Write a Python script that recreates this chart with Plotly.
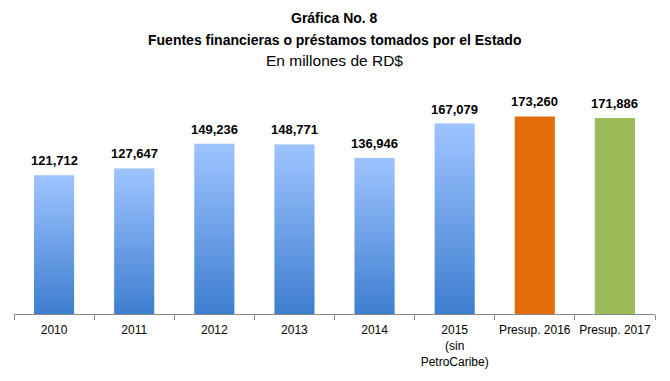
import plotly.graph_objects as go

categories = ["2010", "2011", "2012", "2013", "2014", "2015<br>(sin<br>PetroCaribe)", "Presup. 2016", "Presup. 2017"]
values = [121712, 127647, 149236, 148771, 136946, 167079, 173260, 171886]
labels = ["121,712", "127,647", "149,236", "148,771", "136,946", "167,079", "173,260", "171,886"]
kinds = ["gradient"] * 6 + ["orange", "green"]
title_lines = ["<b>Gráfica No. 8</b>",
               "<b>Fuentes financieras o préstamos tomados por el Estado</b>",
               "En millones de RD$"]
title_sizes = [14, 14, 15.5]

BAR_W = 0.5
FONT = "Liberation Sans"
OFF = 8                      # page body margin of the html page
W, H = 670 - OFF, 381 - OFF
plot_left, plot_right = 14 - OFF, 655 - OFF
plot_top, plot_bot = 86 - OFF, 314 - OFF
title_px = [18 - OFF, 40 - OFF, 60 - OFF]

fig = go.Figure()

fig.add_trace(go.Bar(x=categories, y=values, marker=dict(color="rgba(0,0,0,0)"),
                     hoverinfo="skip", showlegend=False, width=BAR_W))

solid = {"orange": "#E36C0A", "green": "#9BBB59"}
for i, (v, k) in enumerate(zip(values, kinds)):
    xs = [i - BAR_W / 2, i + BAR_W / 2, i + BAR_W / 2, i - BAR_W / 2, i - BAR_W / 2]
    ys = [0, 0, v, v, 0]
    if k == "gradient":
        fig.add_trace(go.Scatter(
            x=xs, y=ys, xaxis="x2", mode="lines", line=dict(width=0),
            fill="toself",
            fillgradient=dict(type="vertical",
                              colorscale=[[0, "#3E7ED0"], [1, "#9EC4FF"]]),
            hoverinfo="skip", showlegend=False))
    else:
        fig.add_trace(go.Scatter(
            x=xs, y=ys, xaxis="x2", mode="lines", line=dict(width=0),
            fill="toself", fillcolor=solid[k],
            hoverinfo="skip", showlegend=False))

for i, (v, t) in enumerate(zip(values, labels)):
    fig.add_annotation(x=i, y=v, xref="x2", yref="y", text="<b>%s</b>" % t,
                       showarrow=False, yanchor="bottom", yshift=5,
                       font=dict(family=FONT, size=13, color="#000000"))

h = plot_bot - plot_top
for line, ypx, sz in zip(title_lines, title_px, title_sizes):
    fig.add_annotation(x=0.5, xref="paper", y=(plot_bot - ypx) / h, yref="paper",
                       text=line, showarrow=False, xanchor="center", yanchor="middle",
                       font=dict(family=FONT, size=sz, color="#000000"))

fig.update_layout(
    width=W, height=H,
    margin=dict(l=plot_left, r=W - plot_right, t=plot_top, b=H - plot_bot, autoexpand=False),
    paper_bgcolor="white", plot_bgcolor="white",
    showlegend=False,
    font=dict(family=FONT, color="#000000"),
    xaxis=dict(type="category", showgrid=False, zeroline=False, automargin=False,
               showline=True, linecolor="#888888", linewidth=1, tickangle=0,
               ticks="outside", tickson="boundaries", ticklen=5, tickcolor="#888888",
               ticklabelstandoff=5,
               tickfont=dict(family=FONT, size=12, color="#000000"),
               fixedrange=True),
    xaxis2=dict(overlaying="x", range=[-0.5, len(values) - 0.5], visible=False,
                fixedrange=True),
    yaxis=dict(range=[0, 200000], visible=False, showgrid=False, automargin=False,
               fixedrange=True),
)

fig.write_html("out.html")
